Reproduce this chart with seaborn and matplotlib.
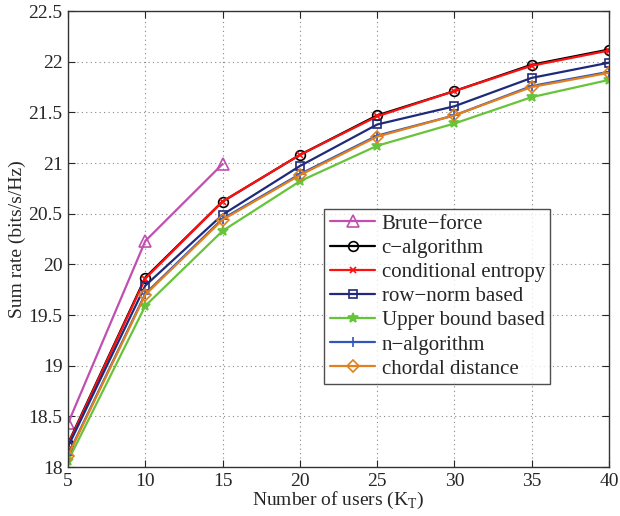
import matplotlib
matplotlib.use("Agg")
import matplotlib.pyplot as plt
import seaborn as sns
import pandas as pd

users = [5, 10, 15, 20, 25, 30, 35, 40]
brute_force = [18.43, 20.23, 20.99]
c_algorithm = [18.23, 19.87, 20.62, 21.08, 21.47, 21.71, 21.97, 22.12]
cond_entropy = [18.22, 19.86, 20.62, 21.08, 21.46, 21.71, 21.96, 22.11]
row_norm = [18.20, 19.79, 20.49, 20.97, 21.38, 21.56, 21.84, 21.99]
upper_bound = [18.06, 19.59, 20.33, 20.82, 21.17, 21.39, 21.65, 21.82]
n_algorithm = [18.12, 19.71, 20.45, 20.89, 21.27, 21.47, 21.76, 21.90]
chordal = [18.11, 19.70, 20.44, 20.88, 21.26, 21.47, 21.75, 21.89]

series = [
    ("Brute\u2212force", brute_force, "#C04FB0", "^", 8, "none"),
    ("c\u2212algorithm", c_algorithm, "#000000", "o", 7, "none"),
    ("conditional entropy", cond_entropy, "#FF1010", "x", 4, None),
    ("row\u2212norm based", row_norm, "#1F2A7A", "s", 6, "none"),
    ("Upper bound based", upper_bound, "#66C43A", "*", 7, None),
    ("n\u2212algorithm", n_algorithm, "#3355BB", "+", 7, None),
    ("chordal distance", chordal, "#E0801F", "D", 6, "none"),
]

sns.set_style("ticks")
plt.rcParams["font.family"] = ["Liberation Serif", "DejaVu Serif"]

fig = plt.figure(figsize=(6.2, 5.16), dpi=100)
ax = fig.add_axes([68 / 620, 1 - 467 / 516, (609 - 68) / 620, (467 - 11) / 516])

for name, vals, color, mk, ms, mfc in series:
    df = pd.DataFrame({"users": users[:len(vals)], "rate": vals})
    kw = dict(marker=mk, markersize=ms, markeredgecolor=color, markeredgewidth=1.2)
    if mfc == "none":
        kw["markerfacecolor"] = "none"
    else:
        kw["markerfacecolor"] = color
    sns.lineplot(data=df, x="users", y="rate", ax=ax, color=color, linewidth=1.6,
                 label=name, **kw)

ax.set_xlim(5, 40)
ax.set_ylim(18, 22.5)
ax.set_xticks(users)
yt = [18 + 0.5 * i for i in range(10)]
ax.set_yticks(yt)
ax.set_yticklabels([("%g" % v) for v in yt])
ax.grid(True, linestyle=(0, (1, 3)), color="#888888", linewidth=0.8)
ax.tick_params(direction="in", top=True, right=True, labelsize=14, length=5, pad=4)
for s in ax.spines.values():
    s.set_linewidth(1.0)
    s.set_color("#333333")

ax.set_xlabel("Number of users (K$_\\mathregular{T}$)", fontsize=14, labelpad=0)
ax.set_ylabel("Sum rate (bits/s/Hz)", fontsize=14, labelpad=2)

leg = ax.legend(loc="upper left", bbox_to_anchor=(0.474, 0.566), fontsize=15,
                frameon=True, fancybox=False, edgecolor="#222222",
                handlelength=2.2, handletextpad=0.3, labelspacing=0.22,
                borderpad=0.25, borderaxespad=0)
leg.get_frame().set_linewidth(1.0)

fig.savefig("out.png", dpi=100)
